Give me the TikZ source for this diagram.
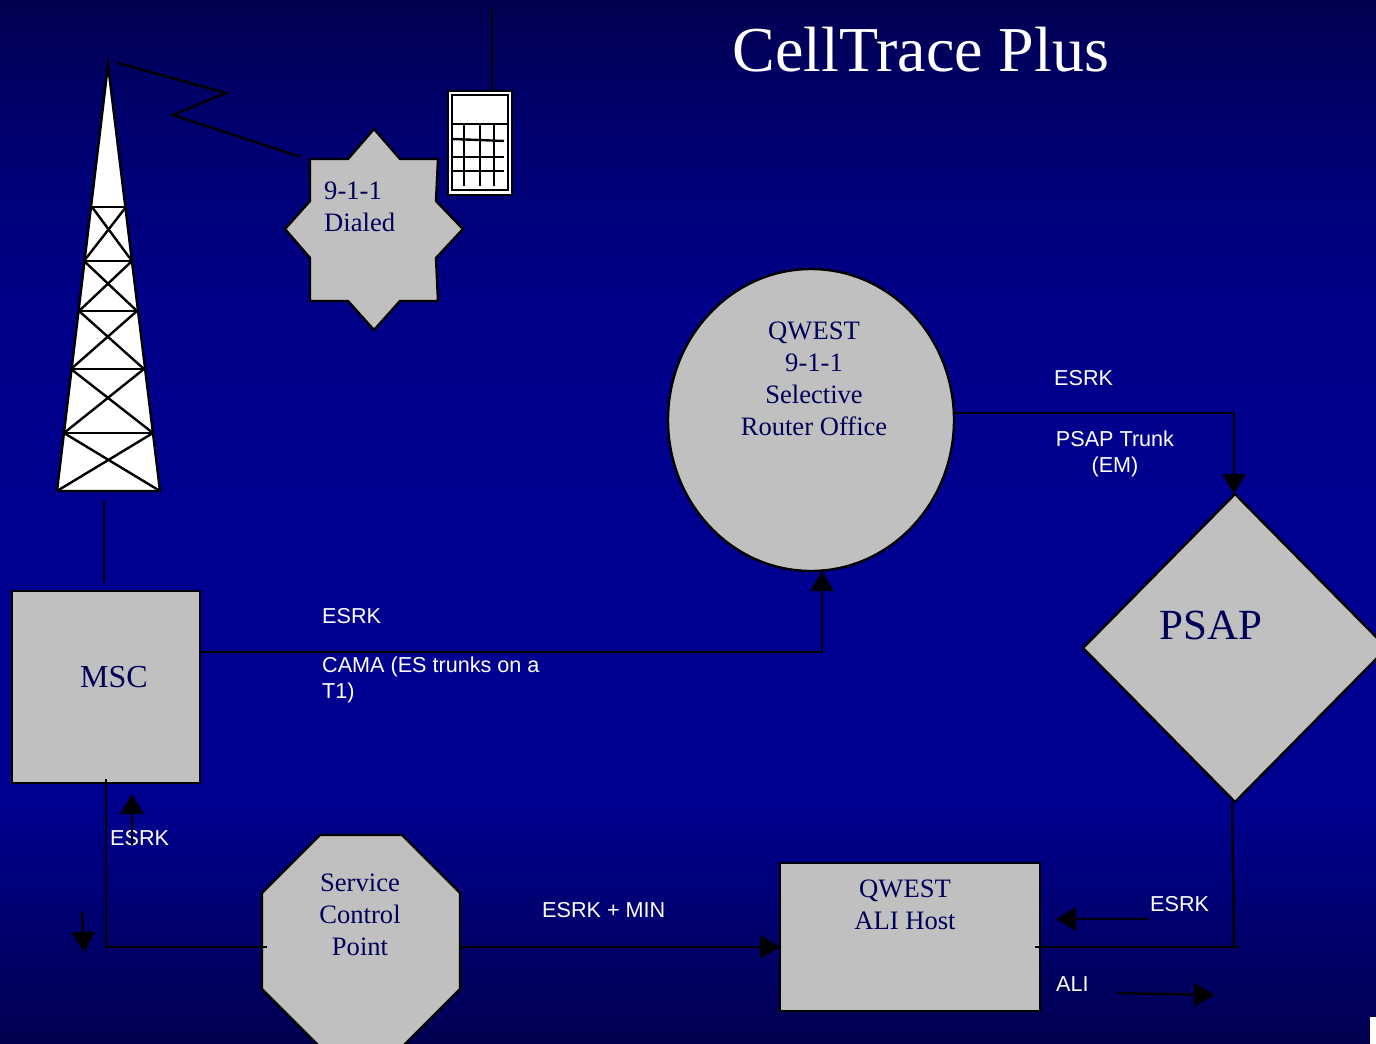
\documentclass[tikz,border=0pt]{standalone}
\usepackage{fontspec}
\setmainfont{Liberation Serif}
\newfontfamily\labelfont{Liberation Sans}
\usetikzlibrary{arrows.meta,shapes.geometric}
\definecolor{boxgrey}{HTML}{C0C0C0}
\definecolor{boxtext}{HTML}{000058}
\definecolor{bgdark}{HTML}{000050}
\definecolor{bglow}{HTML}{000068}
\definecolor{bgupper}{HTML}{000070}
\definecolor{bgnear}{HTML}{000088}
\definecolor{bgmid}{HTML}{000090}
\pgfdeclareverticalshading{slidebg}{100bp}{
  color(0bp)=(bgdark);
  color(25bp)=(bgdark);
  color(29.5bp)=(bglow);
  color(36.7bp)=(bgmid);
  color(51bp)=(bgmid);
  color(60.6bp)=(bgnear);
  color(68.8bp)=(bgupper);
  color(75bp)=(bgdark);
  color(100bp)=(bgdark)}
\tikzset{
  box/.style={draw, fill=boxgrey, line width=2.4pt, inner sep=0pt, outer sep=0pt},
  boxlabel/.style={text=boxtext, inner sep=0pt, align=center, font=\fontsize{26.6}{32}\selectfont},
  wirelabel/.style={text=white, inner sep=0pt, align=left, anchor=west, font=\labelfont\fontsize{21.6}{26}\selectfont},
  wire/.style={line width=2.4pt},
  arrowwire/.style={line width=2.4pt, -{Triangle[length=20pt,width=23pt]}},
}

\begin{document}
\begin{tikzpicture}[x=1pt, y=-1pt]
    \clip (0,0) rectangle (1376,1044);
    \shade[shading=slidebg] (0,0) rectangle (1376,1044);
    \fill[white] (1370,1017) rectangle (1376,1044);

    \node[text=white, inner sep=0pt, font=\fontsize{64}{70}\selectfont] (title) at (921,50) {CellTrace Plus};

    % tower
    \draw[fill=white, line width=2.4pt] (108,65) -- (160,491) -- (57,491) -- cycle;
    \foreach \xa/\xb/\ya/\xc/\xd/\yb in {92/126/207/84/132/261, 84/132/261/79/137/311, 79/137/311/71/144/369, 71/144/369/64/153/433, 64/153/433/57/160/491} {
      \draw[wire] (\xa,\ya) -- (\xb,\ya);
      \draw[wire] (\xa,\ya) -- (\xd,\yb);
      \draw[wire] (\xb,\ya) -- (\xc,\yb);
    }
    \coordinate (towerfoot) at (104,501);
    \coordinate (mscfeed) at (104,583);
    \draw[wire] (towerfoot) -- (mscfeed);

    % radio link
    \coordinate (linka) at (118,63);
    \coordinate (linkb) at (226,93);
    \coordinate (linkc) at (173,115);
    \coordinate (linkd) at (301,157);
    \draw[wire] (linka) -- (linkb) -- (linkc) -- (linkd);

    % handset
    \draw[fill=white, line width=2.4pt] (448,91) rectangle (512,195);
    \draw[line width=2.4pt] (452,95) rectangle (508,190);
    \draw[wire] (452,124) -- (508,124);
    \foreach \xa in {464,480,494} {
      \draw[wire] (\xa,124) -- (\xa,186);
    }
    \foreach \ya in {157,171} {
      \draw[wire] (453,\ya) -- (504,\ya);
    }
    \draw[wire] (453,139) -- (504,141);
    \coordinate (aerial) at (492,7);
    \coordinate (aerialfoot) at (492,91);
    \draw[wire] (aerial) -- (aerialfoot);

    % dialed star
    \draw[box] (374,129) -- (400,159) -- (438,159) -- (436,201) -- (463,229) -- (436,258) -- (438,301) -- (400,301)
      -- (374,330) -- (348,301) -- (310,301) -- (310,258) -- (285,229) -- (310,201) -- (310,159) -- (348,159) -- cycle;
    \node[boxlabel, align=left, anchor=west] (dialed) at (324,207) {9-1-1\\Dialed};

    % service control point
    \draw[box] (320,835) -- (402,835) -- (460,893) -- (460,989) -- (402,1047) -- (320,1047) -- (262,989) -- (262,893) -- cycle;
    \node[boxlabel] (scp) at (360,915) {Service\\Control\\Point};
    \coordinate (scpwest) at (267,947);
    \coordinate (scpeast) at (460,947);

    \node[box, minimum width=188pt, minimum height=192pt] (msc) at (106,687) {};
    \node[boxlabel, font=\fontsize{32}{38}\selectfont] (msctext) at (114,677) {MSC};

    \node[box, ellipse, minimum width=286pt, minimum height=302pt] (router) at (811,420) {};
    \node[boxlabel] (routertext) at (814,379) {QWEST\\9-1-1\\Selective\\Router Office};

    \node[box, diamond, minimum width=304pt, minimum height=308pt] (psap) at (1235,648) {};
    \node[boxlabel, font=\fontsize{43}{50}\selectfont] (psaptext) at (1211,625) {PSAP};

    \node[box, minimum width=260pt, minimum height=148pt] (ali) at (910,937) {};
    \node[boxlabel] (alitext) at (905,905) {QWEST\\ALI Host};

    % trunks
    \draw[arrowwire] ([yshift=35pt]msc.east) -| ([xshift=11pt]router.south);
    \draw[arrowwire] ([yshift=7pt]router.east) -| ([xshift=-1pt]psap.north);
    \draw[wire] ([yshift=4pt]msc.south) |- (scpwest);
    \draw[arrowwire] (scpeast) -- (ali.west |- scpeast);
    \coordinate (alijoin) at (1234,947);
    \coordinate (alitail) at (1239,947);
    \coordinate (alihead) at (1035,947);
    \draw[wire] ([xshift=-3pt]psap.south) -- (alijoin);
    \draw[wire] (alitail) -- (alihead);

    \node[wirelabel] (esrka) at (1054,378) {ESRK};
    \node[wirelabel, align=center, anchor=center] (trunk) at (1115,454) {PSAP Trunk\\(EM)};
    \node[wirelabel] (esrkb) at (322,616) {ESRK};
    \node[wirelabel] (cama) at (322,680) {CAMA (ES trunks on a\\T1)};
    \node[wirelabel] (esrkc) at (110,838) {ESRK};
    \node[wirelabel] (esrkmin) at (542,910) {ESRK + MIN};
    \node[wirelabel] (esrkd) at (1150,904) {ESRK};
    \node[wirelabel] (alilabel) at (1056,984) {ALI};

    % direction arrows
    \coordinate (upa) at (132,845);
    \coordinate (upb) at (132,794);
    \coordinate (downa) at (82,912);
    \coordinate (downb) at (84,952);
    \coordinate (backa) at (1149,919);
    \coordinate (backb) at (1056,919);
    \coordinate (alia) at (1117,993);
    \coordinate (alib) at (1214,995);
    \draw[arrowwire] (upa) -- (upb);
    \draw[arrowwire] (downa) -- (downb);
    \draw[arrowwire] (backa) -- (backb);
    \draw[arrowwire] (alia) -- (alib);
  \end{tikzpicture}
\end{document}
